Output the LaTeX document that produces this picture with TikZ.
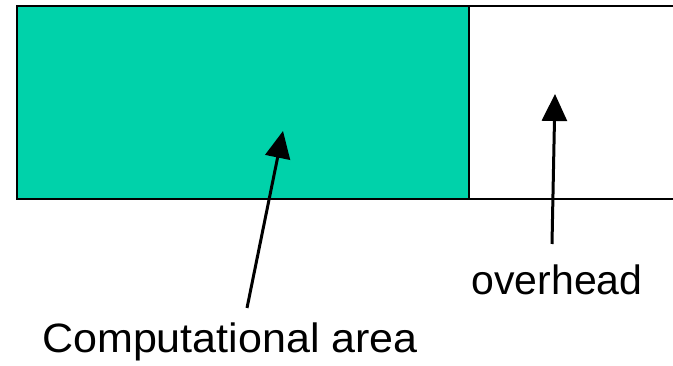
\documentclass[tikz,border=0pt]{standalone}
\usepackage{fontspec}
\setmainfont{Liberation Sans}
\usetikzlibrary{arrows.meta}
\definecolor{compgreen}{RGB}{0,210,170}
\tikzset{
  border/.style={draw=black, line width=2pt},
  pointer/.style={line width=3pt, -{Triangle[length=27pt,width=25pt]}},
  label/.style={font=\fontsize{41}{48}\selectfont, inner sep=0pt, anchor=base}
}
\begin{document}
\begin{tikzpicture}[x=1pt,y=-1pt]
\useasboundingbox (0,0) rectangle (673,366);
\fill[compgreen] (17,6) rectangle (469,199);
\draw[border] (673,6) -- (17,6) -- (17,199) -- (673,199);
\draw[border] (469,6) -- (469,199);
\coordinate (tipA) at (283,131);
\coordinate (tipB) at (555,94);
\node[label, xscale=1.05] (comp) at (230,353) {Computational area};
\node[label] (over) at (557,295) {overhead};
\coordinate (tailA) at (247,308);
\coordinate (tailB) at (552,244);
\draw[pointer] (tailA) -- (tipA);
\draw[pointer] (tailB) -- (tipB);
\end{tikzpicture}
\end{document}
